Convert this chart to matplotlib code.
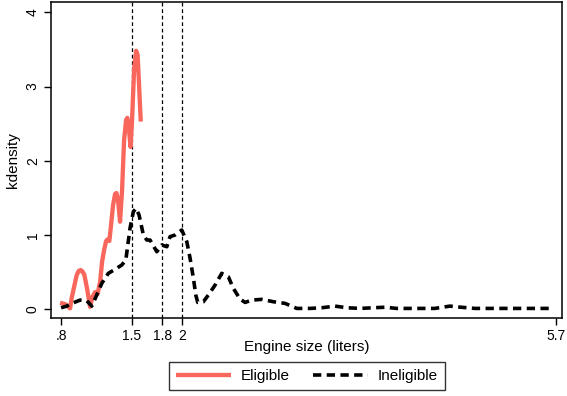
import numpy as np
import matplotlib as mpl
import matplotlib.pyplot as plt

mpl.rcParams["font.family"] = ["Liberation Sans", "DejaVu Sans"]

# kernel density of engine size, eligible cars
elig_x = [0.790, 0.840, 0.889, 0.905, 0.922, 0.955, 0.975, 0.995, 1.013, 1.031,
          1.060, 1.087, 1.110, 1.137, 1.161, 1.186, 1.206, 1.226, 1.246, 1.262,
          1.278, 1.295, 1.315, 1.335, 1.348, 1.364, 1.384, 1.404, 1.424, 1.444,
          1.456, 1.468, 1.488, 1.503, 1.523, 1.543, 1.558, 1.572, 1.589]
elig_y = [0.085, 0.067, 0.010, 0.150, 0.256, 0.459, 0.515, 0.526, 0.505, 0.459,
          0.256, 0.031, 0.162, 0.229, 0.202, 0.364, 0.634, 0.796, 0.918, 0.941,
          0.918, 1.134, 1.403, 1.552, 1.565, 1.471, 1.178, 1.606, 2.281, 2.551,
          2.578, 2.483, 2.186, 2.551, 3.225, 3.482, 3.428, 3.023, 2.528]

# kernel density of engine size, ineligible cars
inel_x = [0.800, 0.856, 0.922, 0.988, 1.054, 1.104, 1.153, 1.203, 1.268, 1.335,
          1.401, 1.441, 1.483, 1.516, 1.543, 1.572, 1.615, 1.649, 1.681, 1.748,
          1.797, 1.847, 1.879, 1.929, 1.995, 2.045, 2.077, 2.110, 2.134, 2.153,
          2.209, 2.258, 2.325, 2.391, 2.456, 2.506, 2.572, 2.622, 2.688, 2.787,
          2.902, 3.018, 3.134, 3.265, 3.381, 3.513, 3.629, 3.760, 3.892, 4.008,
          4.124, 4.300, 4.500, 4.650, 4.760, 4.900, 5.100, 5.300, 5.500, 5.640]
inel_y = [0.018, 0.040, 0.085, 0.121, 0.113, 0.040, 0.189, 0.347, 0.482, 0.536,
          0.594, 0.660, 1.093, 1.314, 1.359, 1.269, 0.999, 0.931, 0.931, 0.773,
          0.864, 0.841, 0.976, 0.999, 1.066, 0.908, 0.688, 0.418, 0.189, 0.090,
          0.099, 0.189, 0.324, 0.482, 0.436, 0.279, 0.135, 0.090, 0.121, 0.131,
          0.099, 0.077, 0.009, 0.009, 0.018, 0.040, 0.018, 0.009, 0.018, 0.025,
          0.009, 0.009, 0.009, 0.040, 0.025, 0.009, 0.009, 0.009, 0.009, 0.009]

cutoffs = [1.5, 1.8, 2]
xticks = [0.8, 1.5, 1.8, 2, 5.7]
xticklabels = [".8", "1.5", "1.8", "2", "5.7"]
yticks = [0, 1, 2, 3, 4]

fig = plt.figure(figsize=(5.67, 3.96), dpi=100)
ax = fig.add_axes([0.0899, 0.197, 0.9013, 0.798])

for c in cutoffs:
    ax.axvline(c, color="black", lw=0.9, linestyle=(0, (3, 2.2)), zorder=1)

ax.plot(elig_x, elig_y, color="#f9665b", lw=3.1, solid_capstyle="butt",
        solid_joinstyle="round", label="Eligible", zorder=2)
ax.plot(inel_x, inel_y, color="black", lw=2.6, linestyle=(0, (2.3, 1.5)),
        label="Ineligible", zorder=3)

ax.set_xlim(0.70, 5.76)
ax.set_ylim(-0.12, 4.14)
ax.set_xticks(xticks)
ax.set_xticklabels(xticklabels)
ax.set_yticks(yticks)
ax.set_yticklabels([str(v) for v in yticks], rotation=90, va="center")
ax.tick_params(direction="out", length=5, width=1, labelsize=10, pad=3)
for s in ax.spines.values():
    s.set_linewidth(1.1)

ax.set_xlabel("Engine size (liters)", fontsize=11, labelpad=-2)
ax.set_ylabel("kdensity", fontsize=11, labelpad=4)

leg = fig.legend(loc="center", bbox_to_anchor=(0.541, 0.0505), ncol=2,
                 frameon=True, fancybox=False, edgecolor="black",
                 fontsize=11, handlelength=3.6, columnspacing=1.5,
                 borderpad=0.45, handletextpad=0.65)
leg.get_frame().set_linewidth(1.0)

plt.savefig("out.png", dpi=100)
